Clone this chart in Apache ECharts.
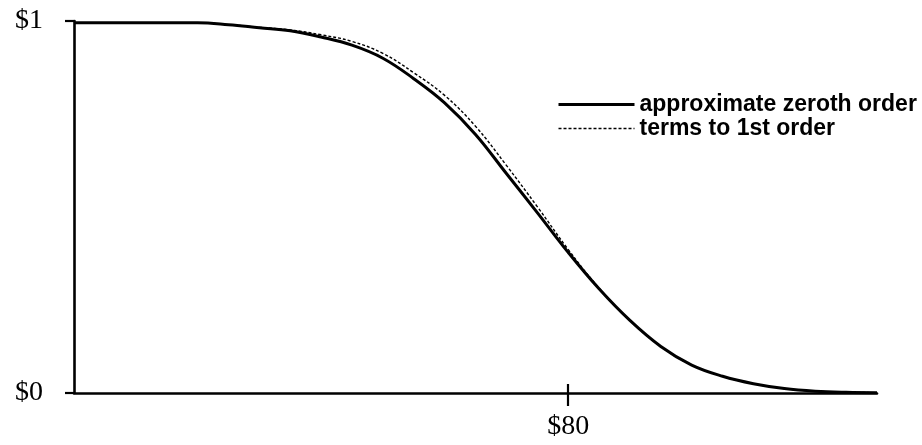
<!DOCTYPE html>
<html>
<head>
<meta charset="utf-8">
<title>Price curve</title>
<script src="https://cdn.jsdelivr.net/npm/echarts@6/dist/echarts.min.js"></script>
<style>
  html, body { margin: 0; padding: 0; background: #fff; }
  #chart { width: 922px; height: 445px; }
</style>
</head>
<body>
<div id="chart"></div>
<script>
// Price points (dollars) at which both curves are sampled
const prices = [0, 10, 20, 25, 30, 35, 40, 45, 50, 55, 60, 65, 70, 75, 80, 85, 90, 95, 100, 105, 110, 115, 120, 125, 130];

// Approximate zeroth order values
const zerothOrder = [0.995, 0.995, 0.995, 0.99, 0.982, 0.974, 0.957, 0.935, 0.90, 0.845, 0.78, 0.695, 0.59, 0.485, 0.378, 0.28, 0.195, 0.125, 0.075, 0.045, 0.025, 0.012, 0.005, 0.002, 0.001];

// Values including terms to first order
const firstOrder = [0.995, 0.995, 0.995, 0.99, 0.983, 0.976, 0.963, 0.945, 0.913, 0.861, 0.80, 0.717, 0.612, 0.501, 0.386, 0.282, 0.195, 0.125, 0.075, 0.045, 0.025, 0.012, 0.005, 0.002, 0.001];

// Axis tick labels
const xTickValues = [80];
const yTickValues = [0, 1];
const seriesNames = ['approximate zeroth order', 'terms to 1st order'];

const pairs = (ys) => prices.map((p, i) => [p, ys[i]]);
const dollar = (v) => '$' + v;

const serifFont = '"Liberation Serif", "Times New Roman", serif';
const sansFont = '"Liberation Sans", Arial, sans-serif';

const chart = echarts.init(document.getElementById('chart'), null, { renderer: 'canvas' });

chart.setOption({
  animation: false,
  backgroundColor: '#ffffff',
  grid: { left: 74, right: 45, top: 21, bottom: 52, containLabel: false },
  legend: {
    orient: 'vertical',
    left: 552,
    top: 88,
    itemWidth: 76,
    itemHeight: 12,
    itemGap: 1,
    selectedMode: false,
    itemStyle: { opacity: 0 },
    textStyle: { fontFamily: sansFont, fontSize: 23, fontWeight: 'bold', color: '#000' },
    data: [
      { name: seriesNames[0], lineStyle: { width: 3, color: '#000' } },
      { name: seriesNames[1], lineStyle: { width: 1.4, color: '#000', type: [3, 2] } }
    ]
  },
  xAxis: [{
    type: 'value',
    min: 0,
    max: 130,
    splitLine: { show: false },
    axisLine: { show: true, lineStyle: { color: '#000', width: 2.6 } },
    axisTick: { show: true, length: 13, inside: false, customValues: xTickValues, lineStyle: { color: '#000', width: 2.2 } },
    axisLabel: {
      customValues: xTickValues,
      formatter: dollar,
      margin: 20,
      fontFamily: serifFont,
      fontSize: 28,
      color: '#000'
    }
  }, {
    // upper half of the crossing tick at $80
    type: 'value',
    position: 'bottom',
    min: 0,
    max: 130,
    splitLine: { show: false },
    axisLine: { show: false },
    axisTick: { show: true, length: 9, inside: true, customValues: xTickValues, lineStyle: { color: '#000', width: 2.2 } },
    axisLabel: { show: false }
  }],
  yAxis: {
    type: 'value',
    min: 0,
    max: 1,
    interval: 1,
    splitLine: { show: false },
    axisLine: { show: true, lineStyle: { color: '#000', width: 2.6 } },
    axisTick: { show: true, length: 9, lineStyle: { color: '#000', width: 2.2 } },
    axisLabel: {
      customValues: yTickValues,
      formatter: dollar,
      margin: 31,
      fontFamily: serifFont,
      fontSize: 28,
      color: '#000'
    }
  },
  series: [{
    name: seriesNames[0],
    type: 'line',
    data: pairs(zerothOrder),
    smooth: 0.4,
    showSymbol: false,
    symbol: 'none',
    lineStyle: { color: '#000', width: 3 },
    itemStyle: { color: '#000' },
    z: 3
  }, {
    name: seriesNames[1],
    type: 'line',
    data: pairs(firstOrder),
    smooth: 0.4,
    showSymbol: false,
    symbol: 'none',
    lineStyle: { color: '#000', width: 1.4, type: [3, 2] },
    itemStyle: { color: '#000' },
    z: 2
  }]
});
</script>
</body>
</html>
